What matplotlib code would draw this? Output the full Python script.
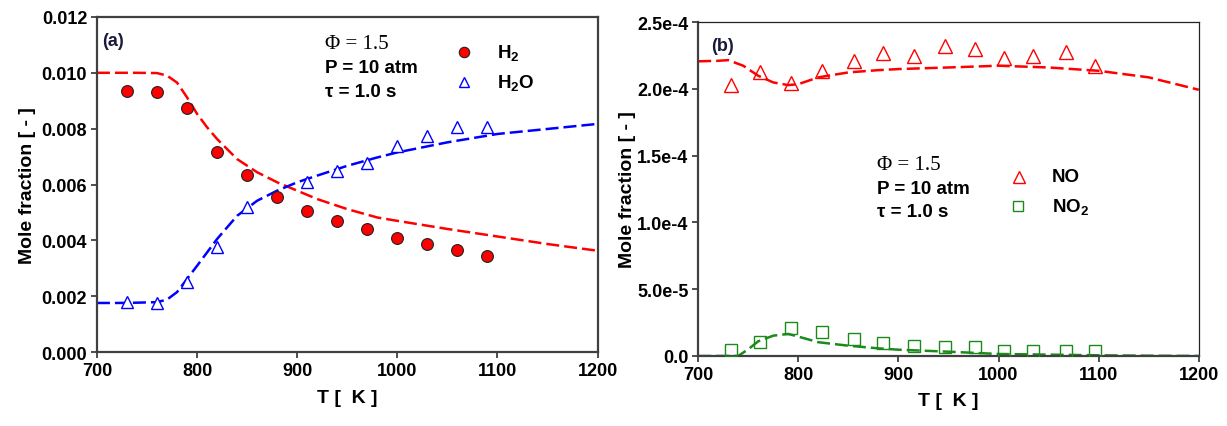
import matplotlib
matplotlib.use("Agg")
import matplotlib.pyplot as plt
from matplotlib.ticker import FixedLocator, FuncFormatter

plt.rcParams['font.family'] = ['Liberation Sans', 'DejaVu Sans']
plt.rcParams['font.weight'] = 'bold'
plt.rcParams['mathtext.fontset'] = 'custom'
plt.rcParams['mathtext.rm'] = 'Liberation Sans:bold'
plt.rcParams['mathtext.bf'] = 'Liberation Sans:bold'
plt.rcParams['mathtext.default'] = 'bf'

# ---- panel (a): H2 / H2O ----
t_exp_a = [730, 760, 790, 820, 850, 880, 910, 940, 970, 1000, 1030, 1060, 1090]
h2_exp = [0.00934, 0.00931, 0.00873, 0.00715, 0.00635, 0.00554, 0.00504,
          0.00469, 0.00441, 0.00407, 0.00387, 0.00366, 0.00344]
t_exp_h2o = [730, 760, 790, 820, 850, 910, 940, 970, 1000, 1030, 1060, 1090]
h2o_exp = [0.00178, 0.00175, 0.00252, 0.00375, 0.00518, 0.00608, 0.00649,
           0.00676, 0.00739, 0.00775, 0.00805, 0.00805]

t_mod_a = [700, 720, 740, 760, 770, 780, 790, 800, 810, 820, 840, 860, 880,
           900, 920, 950, 980, 1000, 1050, 1100, 1150, 1200]
h2_mod = [0.01000, 0.01000, 0.01000, 0.00999, 0.00990, 0.00965, 0.00912,
          0.00853, 0.00805, 0.00763, 0.00691, 0.00644, 0.00608, 0.00578,
          0.00548, 0.00512, 0.00482, 0.00470, 0.00441, 0.00414, 0.00387,
          0.00363]
h2o_mod = [0.00176, 0.00176, 0.00177, 0.00179, 0.00188, 0.00215, 0.00262,
           0.00309, 0.00357, 0.00405, 0.00488, 0.00542, 0.00578, 0.00608,
           0.00632, 0.00667, 0.00697, 0.00715, 0.00751, 0.00781, 0.00799,
           0.00817]

# ---- panel (b): NO / NO2 ----
t_exp_b = [733, 762, 793, 824, 856, 885, 916, 947, 976, 1005, 1034, 1067, 1096]
no_exp = [2.028e-4, 2.123e-4, 2.040e-4, 2.135e-4, 2.210e-4, 2.266e-4,
          2.243e-4, 2.318e-4, 2.298e-4, 2.233e-4, 2.243e-4, 2.278e-4,
          2.173e-4]
no2_exp = [4.7e-6, 1.03e-5, 2.07e-5, 1.77e-5, 1.27e-5, 9.5e-6, 7.7e-6,
           6.5e-6, 6.5e-6, 4.0e-6, 4.0e-6, 4.0e-6, 4.0e-6]

t_mod_b = [700, 720, 730, 745, 760, 775, 790, 800, 820, 850, 880, 900, 950,
           1000, 1050, 1100, 1150, 1200]
no_mod = [2.206e-4, 2.210e-4, 2.215e-4, 2.173e-4, 2.098e-4, 2.048e-4,
          2.028e-4, 2.035e-4, 2.086e-4, 2.123e-4, 2.140e-4, 2.148e-4,
          2.160e-4, 2.173e-4, 2.160e-4, 2.135e-4, 2.086e-4, 1.993e-4]
t_mod_no2 = [700, 720, 740, 750, 760, 775, 790, 800, 820, 850, 880, 900, 950,
             1000, 1050, 1100, 1150, 1200]
no2_mod = [0.0, 0.0, 0.0, 5.0e-6, 1.1e-5, 1.52e-5, 1.65e-5, 1.45e-5,
           1.03e-5, 7.7e-6, 5.7e-6, 4.7e-6, 3.2e-6, 1.5e-6, 1.0e-6, 5.0e-7,
           2.0e-7, 0.0]

x_ticks = [700, 800, 900, 1000, 1100, 1200]
y_ticks_a = [0.000, 0.002, 0.004, 0.006, 0.008, 0.010, 0.012]
y_ticks_b = [0.0, 5.0e-5, 1.0e-4, 1.5e-4, 2.0e-4, 2.5e-4]
y_labels_b = ["0.0", "5.0e-5", "1.0e-4", "1.5e-4", "2.0e-4", "2.5e-4"]

RED = "#ff0000"
BLUE = "#0000ff"
GREEN = "#1a8a1a"
SPINE = "#404040"
DASH = (5.2, 2.0)
LW = 1.8
FS = 13        # tick labels
FT = 13.5      # annotation text
FL = 14        # axis labels

fig = plt.figure(figsize=(12.27, 4.27), dpi=100)
ax1 = fig.add_axes([0.079, 0.173, 0.408, 0.785])
ax2 = fig.add_axes([0.569, 0.164, 0.408, 0.782])


def style_axes(ax):
    for side in ("left", "bottom"):
        ax.spines[side].set_color(SPINE)
        ax.spines[side].set_linewidth(1.6)
    ax.tick_params(direction="out", length=4, width=1.3, color=SPINE,
                   labelsize=FS, pad=3)
    for lab in ax.get_xticklabels() + ax.get_yticklabels():
        lab.set_fontweight("bold")


# panel (a)
ax1.plot(t_mod_a, h2_mod, color=RED, lw=LW, dashes=DASH, zorder=2)
ax1.plot(t_mod_a, h2o_mod, color=BLUE, lw=LW, dashes=DASH, zorder=2)
ax1.plot(t_exp_a, h2_exp, ls="none", marker="o", ms=8.5, mfc=RED,
         mec="#222222", mew=0.8, zorder=3)
ax1.plot(t_exp_h2o, h2o_exp, ls="none", marker="^", ms=8.5, mfc="white",
         mec=BLUE, mew=1.0, zorder=3)
ax1.set_xlim(700, 1200)
ax1.set_ylim(0, 0.012)
ax1.xaxis.set_major_locator(FixedLocator(x_ticks))
ax1.yaxis.set_major_locator(FixedLocator(y_ticks_a))
ax1.yaxis.set_major_formatter(FuncFormatter(lambda v, p: f"{v:.3f}"))
for side in ("top", "right"):
    ax1.spines[side].set_color(SPINE)
    ax1.spines[side].set_linewidth(1.6)
style_axes(ax1)
ax1.set_xlabel("T [  K ]", fontsize=FL, fontweight="bold", labelpad=7)
ax1.set_ylabel("Mole fraction [ - ]", fontsize=FL, fontweight="bold",
               labelpad=4)
ax1.text(0.010, 0.93, "(a)", transform=ax1.transAxes, fontsize=13,
         fontweight="bold", color="#1a1a3a", va="center")

# conditions + key for panel (a)
tr1 = ax1.transAxes
ax1.text(0.455, 0.920, "Φ = 1.5", transform=tr1, fontsize=15,
         family="Liberation Serif", fontweight="normal", va="center")
ax1.text(0.455, 0.850, "P = 10 atm", transform=tr1, fontsize=FT,
         fontweight="bold", va="center")
ax1.text(0.455, 0.778, "τ = 1.0 s", transform=tr1, fontsize=FT,
         fontweight="bold", va="center")
ax1.plot([0.734], [0.896], transform=tr1, marker="o", ms=7.5, mfc=RED,
         mec="#222222", mew=0.8, ls="none", clip_on=False)
ax1.plot([0.734], [0.806], transform=tr1, marker="^", ms=7, mfc="white",
         mec=BLUE, mew=1.0, ls="none", clip_on=False)
ax1.text(0.800, 0.896, "H$_2$", transform=tr1, fontsize=FT,
         fontweight="bold", va="center")
ax1.text(0.800, 0.806, "H$_2$O", transform=tr1, fontsize=FT,
         fontweight="bold", va="center")

# panel (b)
ax2.plot(t_mod_b, no_mod, color=RED, lw=LW, dashes=DASH, zorder=2)
ax2.plot(t_mod_no2, no2_mod, color=GREEN, lw=LW, dashes=DASH, zorder=2)
ax2.plot(t_exp_b, no_exp, ls="none", marker="^", ms=9.5, mfc="none",
         mec=RED, mew=1.0, zorder=3)
ax2.plot(t_exp_b, no2_exp, ls="none", marker="s", ms=8, mfc="none",
         mec=GREEN, mew=1.0, zorder=3)
ax2.set_xlim(700, 1200)
ax2.set_ylim(0, 2.5e-4)
ax2.xaxis.set_major_locator(FixedLocator(x_ticks))
ax2.yaxis.set_major_locator(FixedLocator(y_ticks_b))
ax2.set_yticklabels(y_labels_b)
for side in ("top", "right"):
    ax2.spines[side].set_color("#222222")
    ax2.spines[side].set_linewidth(0.9)
style_axes(ax2)
ax2.set_xlabel("T [  K ]", fontsize=FL, fontweight="bold", labelpad=7)
ax2.set_ylabel("Mole fraction [ - ]", fontsize=FL, fontweight="bold",
               labelpad=1)
ax2.text(0.026, 0.93, "(b)", transform=ax2.transAxes, fontsize=13,
         fontweight="bold", color="#1a1a3a", va="center")

tr2 = ax2.transAxes
ax2.text(0.357, 0.572, "Φ = 1.5", transform=tr2, fontsize=15,
         family="Liberation Serif", fontweight="normal", va="center")
ax2.text(0.357, 0.502, "P = 10 atm", transform=tr2, fontsize=FT,
         fontweight="bold", va="center")
ax2.text(0.357, 0.433, "τ = 1.0 s", transform=tr2, fontsize=FT,
         fontweight="bold", va="center")
ax2.plot([0.641], [0.536], transform=tr2, marker="^", ms=8, mfc="none",
         mec=RED, mew=1.0, ls="none", clip_on=False)
ax2.plot([0.639], [0.449], transform=tr2, marker="s", ms=7.5, mfc="none",
         mec=GREEN, mew=1.0, ls="none", clip_on=False)
ax2.text(0.707, 0.536, "NO", transform=tr2, fontsize=FT,
         fontweight="bold", va="center")
ax2.text(0.707, 0.449, "NO$_2$", transform=tr2, fontsize=FT,
         fontweight="bold", va="center")

fig.savefig("out.png", dpi=100)
